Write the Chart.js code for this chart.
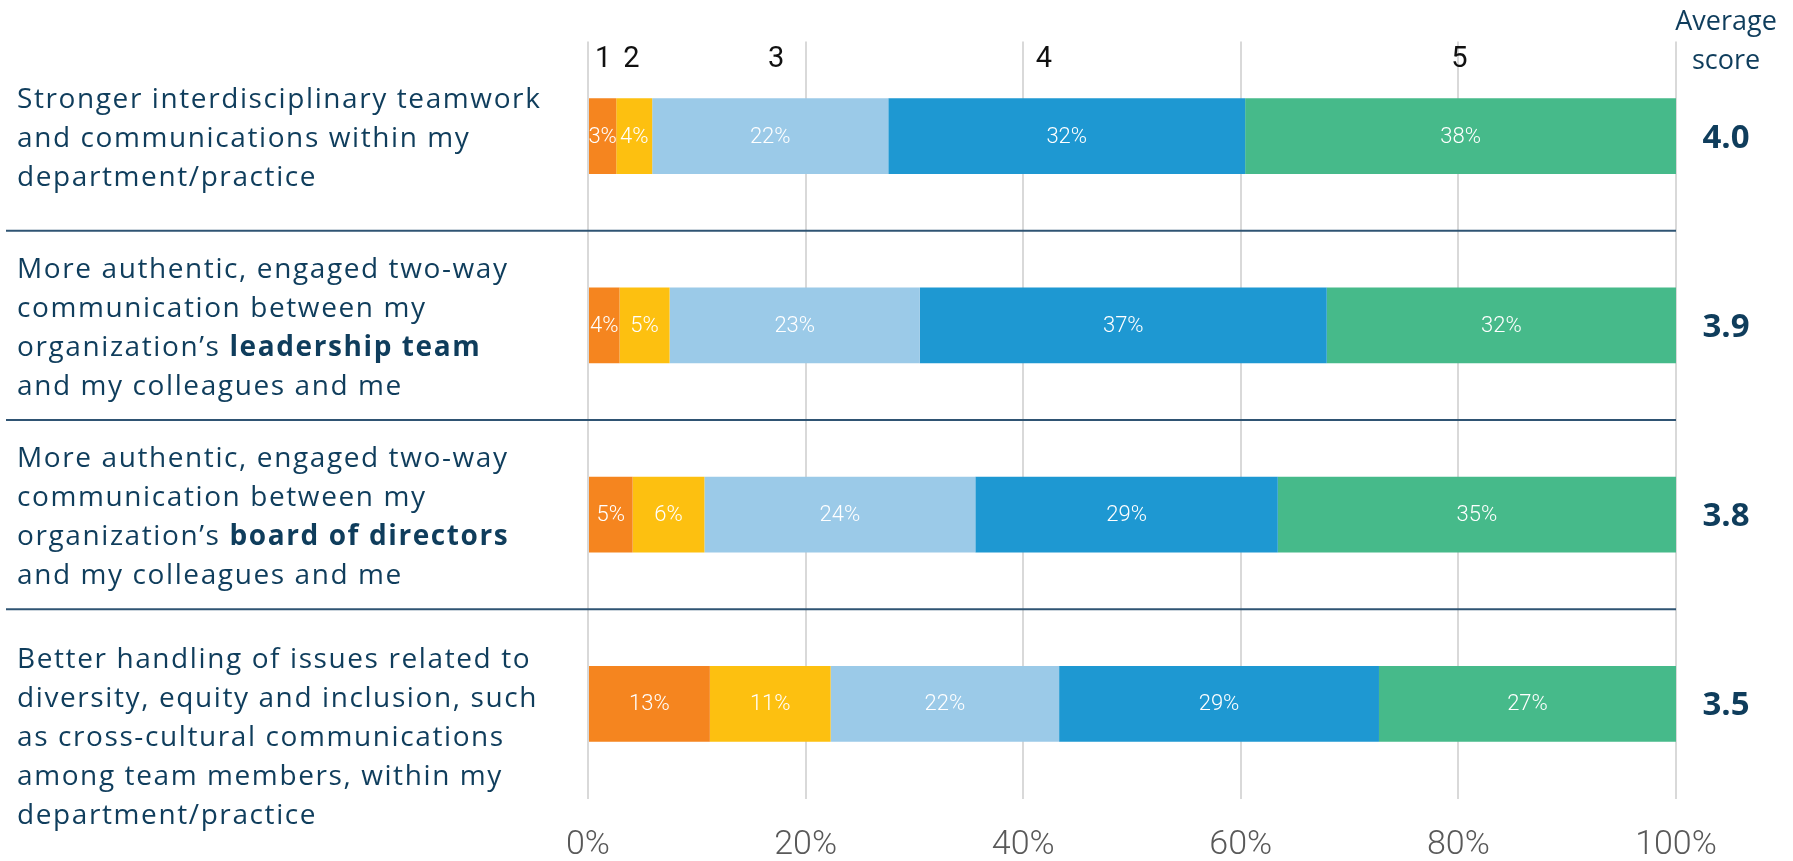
<!DOCTYPE html>
<html>
<head>
<meta charset="utf-8">
<script src="https://cdn.jsdelivr.net/npm/chart.js@4.4.1/dist/chart.umd.min.js"></script>
<style>
    html, body { margin: 0; padding: 0; background: #fff; }
    #wrap { width: 1793px; height: 861px; }
</style>
</head>
<body>
<div id="wrap"><canvas id="chart" width="1793" height="861"></canvas></div>
<script>
// Data
const categories = [
    'Stronger interdisciplinary teamwork\nand communications within my\ndepartment/practice',
    'More authentic, engaged two-way\ncommunication between my\norganization’s **leadership team**\nand my colleagues and me',
    'More authentic, engaged two-way\ncommunication between my\norganization’s **board of directors**\nand my colleagues and me',
    'Better handling of issues related to\ndiversity, equity and inclusion, such\nas cross-cultural communications\namong team members, within my\ndepartment/practice'
];
const levels = ['1', '2', '3', '4', '5'];
const level1 = [2.6, 2.9, 4.1, 11.2];
const level2 = [3.3, 4.6, 6.6, 11.1];
const level3 = [21.7, 23.0, 24.9, 21.0];
const level4 = [32.8, 37.4, 27.8, 29.4];
const level5 = [39.6, 32.1, 36.6, 27.3];
const level1Labels = ['3%', '4%', '5%', '13%'];
const level2Labels = ['4%', '5%', '6%', '11%'];
const level3Labels = ['22%', '23%', '24%', '22%'];
const level4Labels = ['32%', '37%', '29%', '29%'];
const level5Labels = ['38%', '32%', '35%', '27%'];
const averageScores = ['4.0', '3.9', '3.8', '3.5'];
const levelHeaderAt = [1.4, 4.0, 17.3, 41.9, 80.1];

const colors = ['#F5851F', '#FDC010', '#9BCAE8', '#1E98D2', '#46BA8A'];
const navy = '#0F3D5C';
const labelFont = "'Open Sans', sans-serif";

const seriesValues = [level1, level2, level3, level4, level5];
const seriesLabels = [level1Labels, level2Labels, level3Labels, level4Labels, level5Labels];

// draw a line that may contain **bold** parts
const drawRich = (ctx, line, x, y, size) => {
    const parts = line.split('**');
    let cx = x;
    parts.forEach((part, i) => {
        ctx.font = `${i % 2 ? 700 : 400} ${size}px ${labelFont}`;
        ctx.fillText(part, cx, y);
        cx += ctx.measureText(part).width;
    });
};

const decorations = {
    id: 'decorations',
    afterDatasetsDraw(chart) {
        const { ctx, scales: { x, y }, chartArea } = chart;
        ctx.save();

        // segment percentages
        ctx.fillStyle = '#fff';
        ctx.textAlign = 'center';
        ctx.textBaseline = 'middle';
        ctx.font = "300 22px Roboto, sans-serif";
        chart.data.datasets.forEach((ds, di) => {
            chart.getDatasetMeta(di).data.forEach((bar, i) => {
                ctx.fillText(seriesLabels[di][i], (bar.x + bar.base) / 2, bar.y + 1);
            });
        });

        // level headers 1..5
        ctx.fillStyle = '#111';
        ctx.font = "400 29px Roboto, sans-serif";
        levels.forEach((lv, i) => {
            ctx.fillText(lv, x.getPixelForValue(levelHeaderAt[i]), 60);
        });

        // average score column
        const scoreX = 1726;
        ctx.fillStyle = navy;
        ctx.font = `400 27px ${labelFont}`;
        ctx.fillText('Average', scoreX, 22);
        ctx.fillText('score', scoreX, 61);
        ctx.font = `700 33px ${labelFont}`;
        averageScores.forEach((s, i) => {
            ctx.fillText(s, scoreX, y.getPixelForValue(i) + 2);
        });

        // category labels and separators
        ctx.textAlign = 'left';
        ctx.letterSpacing = '1.6px';
        const lh = 39;
        categories.forEach((cat, i) => {
            const lines = cat.split('\n');
            const cy = y.getPixelForValue(i);
            let startY = cy + 3 - (lines.length - 1) * lh / 2;
            if (i > 0) {
                const sep = (y.getPixelForValue(i - 1) + cy) / 2;
                if (startY - sep < 30) startY = sep + 51;
                ctx.strokeStyle = '#2F5473';
                ctx.lineWidth = 2;
                ctx.beginPath();
                ctx.moveTo(6, sep);
                ctx.lineTo(chartArea.right, sep);
                ctx.stroke();
            }
            ctx.fillStyle = navy;
            lines.forEach((line, li) => drawRich(ctx, line, 17, startY + li * lh, 28));
        });
        ctx.restore();
    }
};

new Chart(document.getElementById('chart'), {
    type: 'bar',
    data: {
        labels: categories,
        datasets: levels.map((lv, i) => ({
            label: lv,
            data: seriesValues[i],
            backgroundColor: colors[i],
            borderWidth: 0,
            barPercentage: 0.4,
            categoryPercentage: 1
        }))
    },
    options: {
        indexAxis: 'y',
        responsive: false,
        animation: false,
        devicePixelRatio: 1,
        layout: { padding: { left: 588, right: 117, top: 41.5, bottom: 0 } },
        plugins: { legend: { display: false }, tooltip: { enabled: false } },
        scales: {
            x: {
                stacked: true,
                min: 0,
                max: 100,
                border: { display: false },
                grid: { color: '#D9D9D9', lineWidth: 2, drawTicks: false },
                afterFit: scale => { scale.height = 62.5; },
                ticks: {
                    stepSize: 20,
                    callback: v => `${v}%`,
                    color: '#595959',
                    padding: 30,
                    font: { family: 'Roboto, sans-serif', size: 34, weight: 300, lineHeight: 1 }
                }
            },
            y: {
                stacked: true,
                display: false
            }
        }
    },
    plugins: [decorations]
});
</script>
</body>
</html>
